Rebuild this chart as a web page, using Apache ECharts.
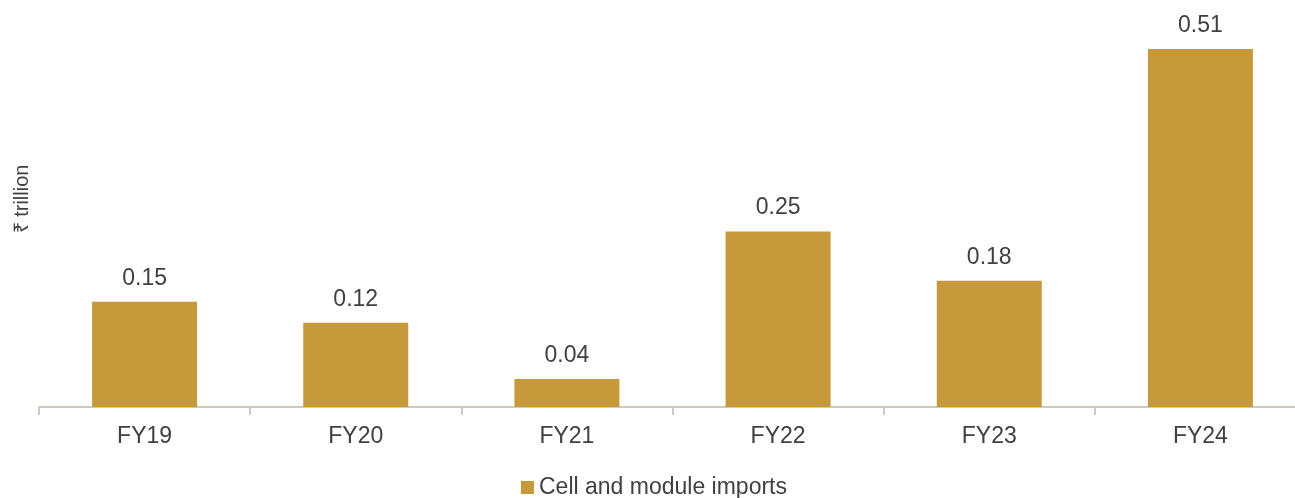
<!DOCTYPE html>
<html>
<head>
<meta charset="utf-8">
<script src="https://cdn.jsdelivr.net/npm/echarts@6/dist/echarts.min.js"></script>
<style>
  html, body { margin: 0; padding: 0; background: #ffffff; overflow: hidden; }
  /* the canvas is a little wider than the page so the axis runs off the right edge */
  #chart { width: 1306px; height: 498px; }
</style>
</head>
<body>
<div id="chart"></div>
<script>
// Cell and module imports by fiscal year, in ₹ trillion
const categories = ['FY19', 'FY20', 'FY21', 'FY22', 'FY23', 'FY24'];
const imports = [0.15, 0.12, 0.04, 0.25, 0.18, 0.51];
const seriesName = 'Cell and module imports';
const unitLabel = '₹ trillion';

const textColor = '#404040';
const barColor = '#C69A3B';
const axisColor = '#CFC9C0';
const fontFamily = 'Liberation Sans, Arial, sans-serif';

const chart = echarts.init(document.getElementById('chart'), null, { renderer: 'canvas' });

chart.setOption({
  animation: false,
  backgroundColor: '#ffffff',
  textStyle: { fontFamily: fontFamily, color: textColor },
  grid: { left: 39, right: 0, top: 21, bottom: 91, containLabel: false },
  legend: {
    data: [seriesName],
    left: 521,
    top: 476,
    padding: 0,
    itemWidth: 13,
    itemHeight: 13,
    icon: 'rect',
    textStyle: { fontSize: 23, color: textColor, fontFamily: fontFamily }
  },
  graphic: [{
    type: 'text',
    x: 22,
    y: 199,
    rotation: Math.PI / 2,
    style: {
      text: unitLabel,
      font: '20px ' + fontFamily,
      fill: textColor,
      textAlign: 'center',
      textVerticalAlign: 'middle'
    }
  }],
  xAxis: {
    type: 'category',
    data: categories,
    axisLine: { show: true, lineStyle: { color: axisColor, width: 2 } },
    axisTick: { show: true, length: 8, lineStyle: { color: axisColor, width: 2 } },
    axisLabel: { fontSize: 23, color: textColor, margin: 18 }
  },
  yAxis: {
    type: 'value',
    min: 0,
    max: 0.55,
    show: false,
    splitLine: { show: false }
  },
  series: [{
    name: seriesName,
    type: 'bar',
    data: imports,
    barWidth: 105,
    itemStyle: { color: barColor },
    label: {
      show: true,
      position: 'top',
      distance: 12,
      fontSize: 23,
      color: textColor,
      formatter: p => p.value.toFixed(2)
    }
  }]
});
</script>
</body>
</html>
